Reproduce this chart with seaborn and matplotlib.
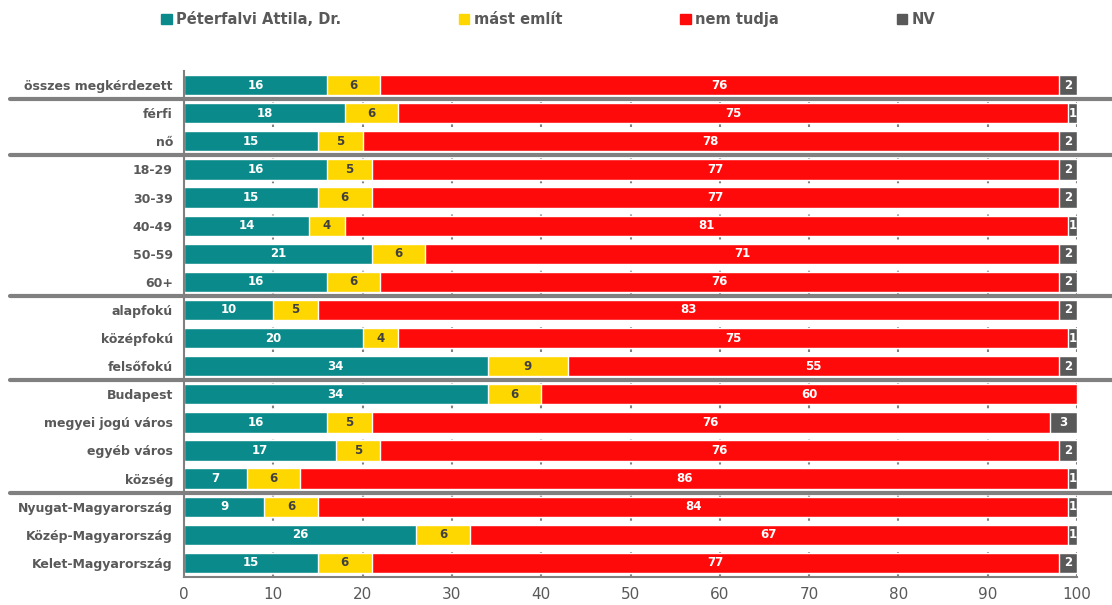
import matplotlib
matplotlib.use('Agg')
import matplotlib.pyplot as plt
import seaborn as sns
import numpy as np
import pandas as pd

categories = ['összes megkérdezett', 'férfi', 'nő', '18-29', '30-39', '40-49', '50-59', '60+',
              'alapfokú', 'középfokú', 'felsőfokú', 'Budapest', 'megyei jogú város',
              'egyéb város', 'község', 'Nyugat-Magyarország', 'Közép-Magyarország',
              'Kelet-Magyarország']
peterfalvi = [16, 18, 15, 16, 15, 14, 21, 16, 10, 20, 34, 34, 16, 17, 7, 9, 26, 15]
mast_emlit = [6, 6, 5, 5, 6, 4, 6, 6, 5, 4, 9, 6, 5, 5, 6, 6, 6, 6]
nem_tudja = [76, 75, 78, 77, 77, 81, 71, 76, 83, 75, 55, 60, 76, 76, 86, 84, 67, 77]
nv = [2, 1, 2, 2, 2, 1, 2, 2, 2, 1, 2, 0, 3, 2, 1, 1, 1, 2]
series = ['Péterfalvi Attila, Dr.', 'mást említ', 'nem tudja', 'NV']
separators_after = ['összes megkérdezett', 'nő', '60+', 'felsőfokú', 'község']

colors = ['#0A8A8A', '#FFD700', '#FF0A0A', '#595959']
text_colors = ['white', '#404040', 'white', 'white']
GRAY = '#808080'

sns.set_style('white')
plt.rcParams['font.family'] = ['DejaVu Sans']

df = pd.DataFrame({'cat': categories, series[0]: peterfalvi, series[1]: mast_emlit,
                   series[2]: nem_tudja, series[3]: nv})
cum = df[series].cumsum(axis=1)

fig = plt.figure(figsize=(11.12, 6.05), dpi=100)
ax = fig.add_axes([0.1655, 0.0463, 0.8030, 0.8363])

# widest cumulative first so each segment sits on top of the next
for s, c in zip(series[::-1], colors[::-1]):
    sns.barplot(x=cum[s], y=df['cat'], color=c, saturation=1, orient='h', width=0.72,
                edgecolor='white', linewidth=1, ax=ax, zorder=2)

for i, row in df.iterrows():
    left = 0
    for s, tc in zip(series, text_colors):
        v = row[s]
        if v > 0:
            ax.text(left + v / 2, i, str(v), ha='center', va='center',
                    color=tc, fontsize=8.5, fontweight='bold', zorder=3)
        left += v

ax.set_xlim(0, 100)
ax.set_ylim(len(categories) - 0.5, -0.5)
ax.set_xticks(range(0, 101, 10))
ax.set_xlabel('')
ax.set_ylabel('')
ax.grid(axis='x', color=GRAY, linestyle=(0, (3, 6)), linewidth=1.5, zorder=0)
ax.set_axisbelow(True)

for sp in ['top', 'right']:
    ax.spines[sp].set_visible(False)
for sp in ['left', 'bottom']:
    ax.spines[sp].set_color(GRAY)
    ax.spines[sp].set_linewidth(1.5)

ax.set_yticks(np.arange(len(categories) + 1) - 0.5, minor=True)
ax.tick_params(axis='y', which='major', length=0, pad=8, labelsize=9, labelcolor='#595959')
ax.tick_params(axis='y', which='minor', length=4, color=GRAY, width=1.5)
ax.tick_params(axis='x', length=4, color=GRAY, width=1.5, labelsize=11, labelcolor='#595959')
for lab in ax.get_yticklabels():
    lab.set_fontweight('bold')

for name in separators_after:
    y = categories.index(name) + 0.5
    ax.axhline(y, xmin=-0.195, xmax=1.04, color=GRAY, linewidth=3, clip_on=False, zorder=4)

handles = [plt.Rectangle((0, 0), 1, 1, color=c) for c in colors]
leg = fig.legend(handles, series, loc='center', bbox_to_anchor=(0.493, 0.968), ncol=4,
                 frameon=False, handlelength=0.7, handleheight=0.7, handletextpad=0.3,
                 columnspacing=8.1, prop={'size': 10.5, 'weight': 'bold'})
for t in leg.get_texts():
    t.set_color('#595959')

fig.savefig('out.png', dpi=100)
